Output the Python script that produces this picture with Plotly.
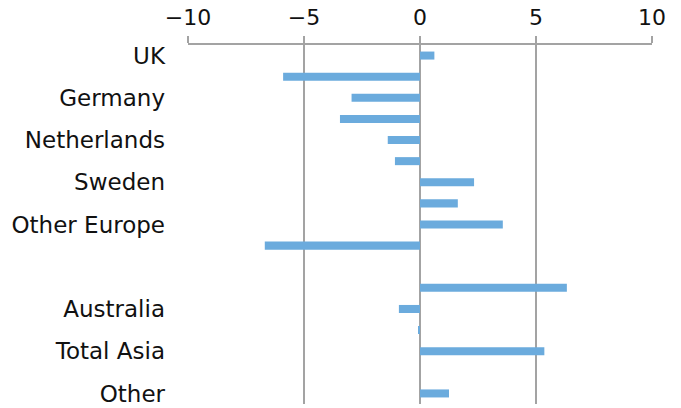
import plotly.graph_objects as go

# Row labels (only every other row carries a visible label)
row_labels = ["UK", "", "Germany", "", "Netherlands", "", "Sweden", "",
              "Other Europe", "", "", "", "Australia", "", "Total Asia", "", "Other"]
# Change per row; None marks rows without a bar
values = [0.62, -5.9, -2.95, -3.45, -1.39, -1.08, 2.33, 1.63,
          3.57, -6.69, None, 6.33, -0.91, -0.07, 5.36, None, 1.25]
x_ticks = [-10, -5, 0, 5, 10]
x_tick_text = ["\u221210", "\u22125", "0", "5", "10"]

rows = list(range(len(row_labels)))

fig = go.Figure(
    go.Bar(
        x=values,
        y=rows,
        orientation="h",
        marker=dict(color="#6BABDD", line=dict(width=0)),
        showlegend=False,
        hoverinfo="x",
    )
)

grid = "#A3A3A3"
fig.update_layout(
    width=681,
    height=408,
    margin=dict(l=188, r=29, t=45, b=2),
    paper_bgcolor="white",
    plot_bgcolor="white",
    bargap=0.62,
    font=dict(family="DejaVu Sans", size=23, color="#111111"),
    xaxis=dict(
        side="top",
        range=[-10, 10],
        tickvals=x_ticks,
        ticktext=x_tick_text,
        tickfont=dict(size=22),
        showgrid=True,
        gridcolor=grid,
        gridwidth=2,
        zeroline=True,
        zerolinecolor=grid,
        zerolinewidth=2,
        showline=True,
        linecolor=grid,
        linewidth=2,
        ticks="outside",
        ticklen=7,
        tickwidth=2,
        tickcolor=grid,
        ticklabelstandoff=2,
        fixedrange=True,
    ),
    yaxis=dict(
        range=[len(rows) - 0.5, -0.5],
        tickvals=rows,
        ticktext=row_labels,
        showgrid=False,
        zeroline=False,
        showline=False,
        ticks="",
        ticklabelstandoff=22,
        ticklabeloverflow="allow",
        fixedrange=True,
    ),
)

fig.write_html("out.html")
